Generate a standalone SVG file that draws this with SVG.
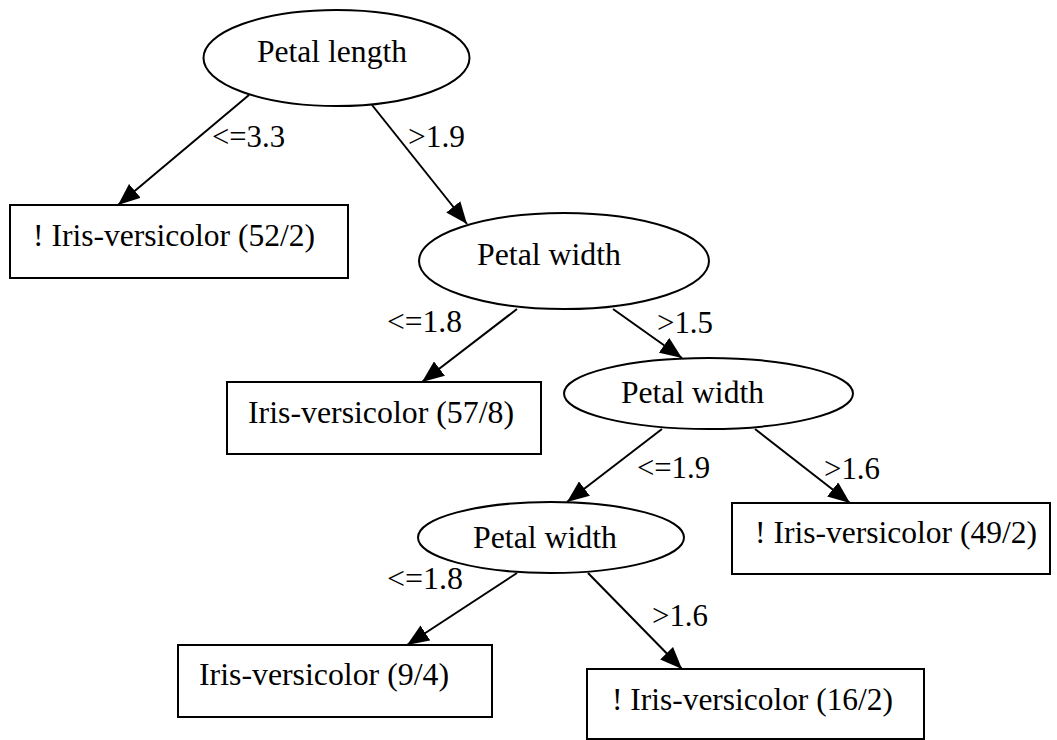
<svg xmlns="http://www.w3.org/2000/svg" width="1057" height="740" viewBox="0 0 1057 740">
<style>
.n{fill:#fff;stroke:#000;stroke-width:2}
.t{font-family:"Liberation Serif","Times New Roman",serif;font-size:31px;fill:#000}
.e{stroke:#000;stroke-width:2;fill:none;marker-end:url(#ah)}
</style>
<defs>
<marker id="ah" viewBox="0 0 22 18" markerWidth="22" markerHeight="18" refX="22" refY="9" orient="auto" markerUnits="userSpaceOnUse">
<path d="M0,0 L22,9 L0,18 z" fill="#000"/>
</marker>
</defs>
<rect width="1057" height="740" fill="#fff"/>
<g id="edges">
<line class="e" x1="249" y1="95" x2="118" y2="205"/>
<line class="e" x1="372" y1="105" x2="467" y2="224"/>
<line class="e" x1="517" y1="309" x2="422" y2="382"/>
<line class="e" x1="613" y1="309" x2="682" y2="358"/>
<line class="e" x1="662" y1="429" x2="567" y2="502"/>
<line class="e" x1="755" y1="429" x2="850" y2="503"/>
<line class="e" x1="517" y1="573" x2="407" y2="645"/>
<line class="e" x1="588" y1="573" x2="682" y2="669"/>
<text class="t" x="212" y="147" textLength="73" lengthAdjust="spacingAndGlyphs">&lt;=3.3</text>
<text class="t" x="408" y="147" textLength="57" lengthAdjust="spacingAndGlyphs">&gt;1.9</text>
<text class="t" x="387" y="332" textLength="75" lengthAdjust="spacingAndGlyphs">&lt;=1.8</text>
<text class="t" x="657" y="333" textLength="56" lengthAdjust="spacingAndGlyphs">&gt;1.5</text>
<text class="t" x="637" y="478" textLength="73" lengthAdjust="spacingAndGlyphs">&lt;=1.9</text>
<text class="t" x="824" y="479" textLength="56" lengthAdjust="spacingAndGlyphs">&gt;1.6</text>
<text class="t" x="387" y="589" textLength="76" lengthAdjust="spacingAndGlyphs">&lt;=1.8</text>
<text class="t" x="652" y="626" textLength="56" lengthAdjust="spacingAndGlyphs">&gt;1.6</text>
</g>
<g id="n1">
<ellipse class="n" cx="336.5" cy="58" rx="133" ry="48"/>
<text class="t" x="257" y="62" textLength="150" lengthAdjust="spacingAndGlyphs">Petal length</text>
</g>
<g id="n2">
<rect class="n" x="10" y="205" width="338" height="73"/>
<text class="t" x="33" y="246" textLength="282" lengthAdjust="spacingAndGlyphs">! Iris-versicolor (52/2)</text>
</g>
<g id="n3">
<ellipse class="n" cx="564" cy="261" rx="145" ry="48"/>
<text class="t" x="477" y="265" textLength="144" lengthAdjust="spacingAndGlyphs">Petal width</text>
</g>
<g id="n4">
<rect class="n" x="227" y="382" width="314" height="72"/>
<text class="t" x="248" y="423" textLength="266" lengthAdjust="spacingAndGlyphs">Iris-versicolor (57/8)</text>
</g>
<g id="n5">
<ellipse class="n" cx="708.5" cy="393.5" rx="144.5" ry="35.5"/>
<text class="t" x="621" y="403" textLength="143" lengthAdjust="spacingAndGlyphs">Petal width</text>
</g>
<g id="n6">
<ellipse class="n" cx="551" cy="537.5" rx="133" ry="35.5"/>
<text class="t" x="473" y="548" textLength="144" lengthAdjust="spacingAndGlyphs">Petal width</text>
</g>
<g id="n7">
<rect class="n" x="732" y="503" width="318" height="71"/>
<text class="t" x="755" y="543" textLength="282" lengthAdjust="spacingAndGlyphs">! Iris-versicolor (49/2)</text>
</g>
<g id="n8">
<rect class="n" x="178" y="645" width="314" height="72"/>
<text class="t" x="199" y="685" textLength="250" lengthAdjust="spacingAndGlyphs">Iris-versicolor (9/4)</text>
</g>
<g id="n9">
<rect class="n" x="587" y="669" width="337" height="70"/>
<text class="t" x="612" y="710" textLength="281" lengthAdjust="spacingAndGlyphs">! Iris-versicolor (16/2)</text>
</g>
</svg>
